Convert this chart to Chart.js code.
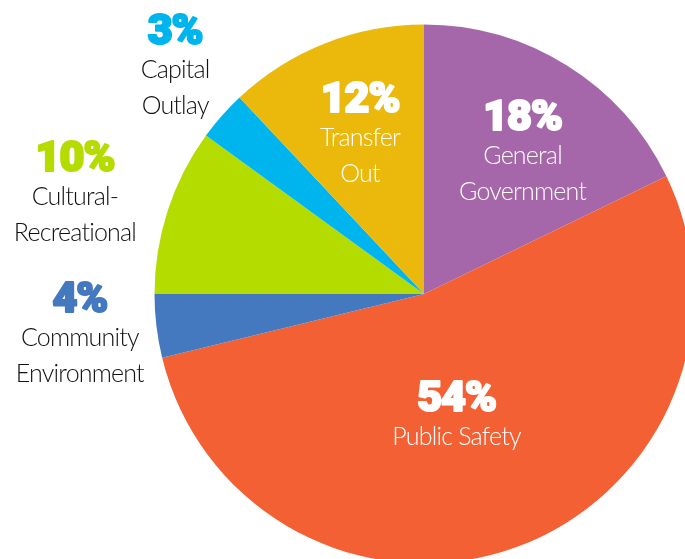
<!DOCTYPE html>
<html>
<head>
<meta charset="utf-8">
<script src="https://cdn.jsdelivr.net/npm/chart.js@4.4.1/dist/chart.umd.min.js"></script>
<style>
  html, body { margin: 0; padding: 0; background: #ffffff; overflow: hidden; }
  #wrap { position: fixed; left: 0; top: 0; width: 685px; height: 559px; overflow: hidden; background: #fff; }
  #c { position: absolute; left: 0; top: 0; }
</style>
</head>
<body>
<div id="wrap"><canvas id="c" width="700" height="580" style="width:700px;height:580px"></canvas></div>
<script>
// ---- data ----
const categories = ['General Government', 'Public Safety', 'Community Environment', 'Cultural-Recreational', 'Capital Outlay', 'Transfer Out'];
const shares = [17.8, 53.4, 3.8, 10.0, 3.0, 12.0];
const pctLabels = ['18%', '54%', '4%', '10%', '3%', '12%'];
const nameLines = [['General', 'Government'], ['Public Safety'], ['Community', 'Environment'], ['Cultural-', 'Recreational'], ['Capital', 'Outlay'], ['Transfer', 'Out']];

// ---- style / layout ----
const sliceColors = ['#A667AA', '#F26034', '#4479BF', '#B5DC00', '#00B5EE', '#EAB90C'];
const insideLabel = [true, true, false, false, false, true];
// label anchor: fraction of radius, angle offset (deg) from slice middle
const labelPolar = [[0.758, -3.2], [0.397, 2.1], [1.277, 6.3], [1.393, 3.6], [1.349, 5.4], [0.768, 3.6]];

const pctFont = '900 43px Roboto, "Lato", "DejaVu Sans", sans-serif';
const nameFont = '300 25px Lato, "Open Sans", sans-serif';

const labelPlugin = {
  id: 'sliceLabels',
  afterDatasetsDraw(chart) {
    const ctx = chart.ctx;
    const meta = chart.getDatasetMeta(0);
    meta.data.forEach((arc, i) => {
      const p = arc.getProps(['x', 'y', 'startAngle', 'endAngle', 'outerRadius'], true);
      const mid = (p.startAngle + p.endAngle) / 2 + labelPolar[i][1] * Math.PI / 180;
      const r = p.outerRadius * labelPolar[i][0];
      const ax = p.x + Math.cos(mid) * r;
      const ay = p.y + Math.sin(mid) * r;
      ctx.save();
      ctx.textAlign = 'center';
      ctx.textBaseline = 'alphabetic';
      ctx.font = pctFont;
      const pc = insideLabel[i] ? '#ffffff' : sliceColors[i];
      ctx.fillStyle = pc;
      ctx.strokeStyle = pc;
      ctx.lineWidth = 2.2;
      ctx.lineJoin = 'round';
      ctx.letterSpacing = '-1px';
      const base = ay + 15;
      ctx.strokeText(pctLabels[i], ax, base);
      ctx.fillText(pctLabels[i], ax, base);
      ctx.font = nameFont;
      ctx.letterSpacing = '-0.8px';
      ctx.fillStyle = insideLabel[i] ? '#ffffff' : '#111111';
      nameLines[i].forEach((line, k) => {
        ctx.fillText(line, ax, base + 34 + k * 36);
      });
      ctx.restore();
    });
  }
};

new Chart(document.getElementById('c'), {
  type: 'pie',
  data: {
    labels: categories,
    datasets: [{
      data: shares,
      backgroundColor: sliceColors,
      borderWidth: 0
    }]
  },
  options: {
    responsive: false,
    devicePixelRatio: 1,
    animation: false,
    layout: { padding: { left: 154.5, top: 24.5, right: 6.5, bottom: 16.5 } },
    plugins: {
      legend: { display: false },
      tooltip: { enabled: false }
    }
  },
  plugins: [labelPlugin]
});
</script>
</body>
</html>
